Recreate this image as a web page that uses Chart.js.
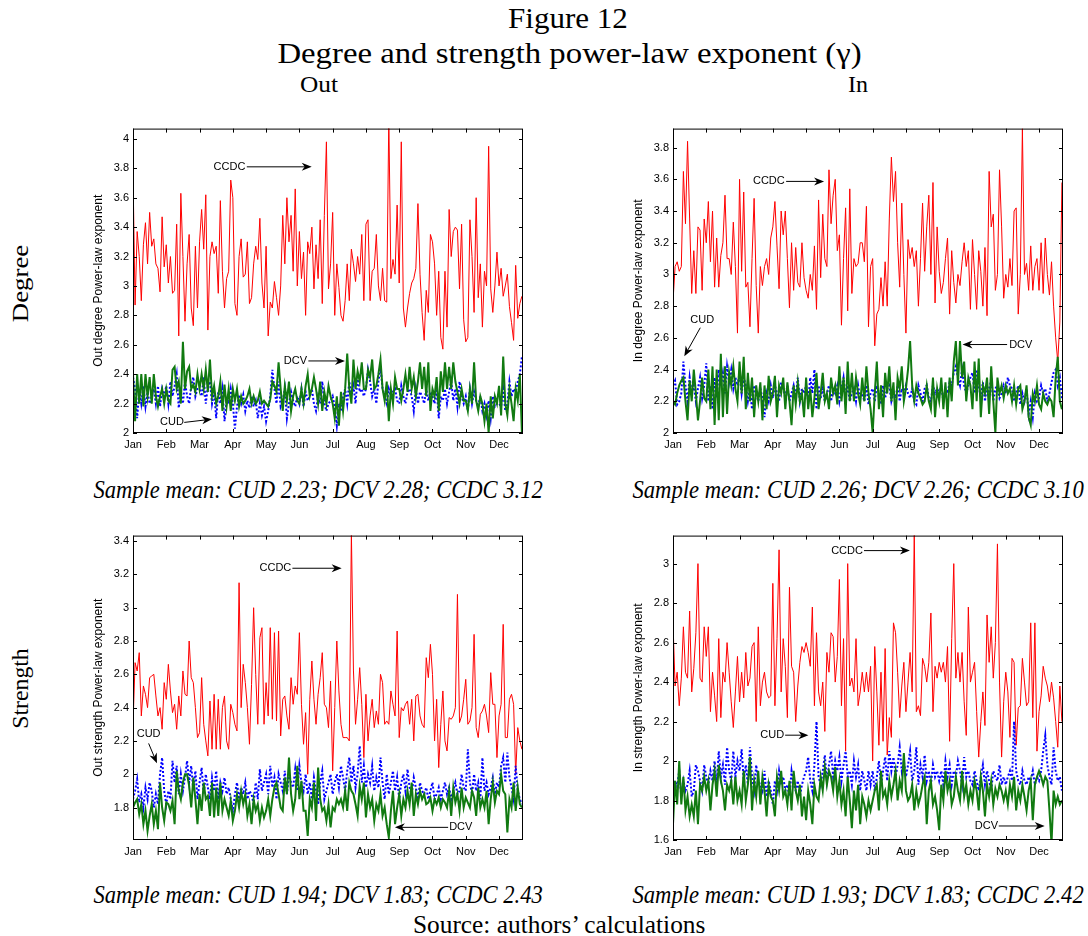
<!DOCTYPE html>
<html>
<head>
<meta charset="utf-8">
<script src="https://cdn.jsdelivr.net/npm/chart.js@4.4.1/dist/chart.umd.min.js"></script>
<style>
  body { margin: 0; width: 1088px; height: 936px; background: #fff; position: relative; overflow: hidden; }
  canvas { position: absolute; }
  .t { position: absolute; white-space: nowrap; color: #000; transform-origin: center center; line-height: 1; }
</style>
</head>
<body>
<canvas id="p1" width="477" height="340" style="left:58px;top:118px"></canvas>
<canvas id="p2" width="477" height="340" style="left:598px;top:118px"></canvas>
<canvas id="p3" width="477" height="340" style="left:58px;top:525px"></canvas>
<canvas id="p4" width="477" height="340" style="left:598px;top:525px"></canvas>
<script>
// months on the x axis, 16 observations per month (Dec is partial)
const MONTHS = ['Jan', 'Feb', 'Mar', 'Apr', 'May', 'Jun', 'Jul', 'Aug', 'Sep', 'Oct', 'Nov', 'Dec'];
const PER_MONTH = 16;
const X_MAX = 11.72;

// ---- Out degree ----
const outDegCCDC = [
  3.77, 2.87, 3.37, 3.2, 2.9, 3.28, 3.43, 3.15, 3.5, 3.27, 3.32, 3.15, 3.12, 2.96, 3.47, 3.13,
  3.28, 3.02, 3.2, 2.95, 2.97, 3.42, 2.66, 3.63, 3.2, 2.76, 3.15, 3.35, 2.85, 2.73, 3.27, 2.85,
  3.3, 3.52, 3.25, 3.62, 2.7, 3.2, 3.3, 3.22, 3.27, 2.95, 3.58, 3.1, 2.85, 3.05, 3.1, 3.72,
  3.6, 2.88, 2.8, 3.2, 3.32, 3.06, 3.08, 3.3, 2.88, 2.92, 3.15, 3.27, 3.18, 3.46, 3.02, 2.85,
  3.27, 2.66, 2.89, 2.85, 3.03, 2.92, 2.8, 3.0, 3.48, 3.15, 3.6, 3.3, 3.48, 3.1, 3.66, 3.0,
  3.37, 3.05, 3.23, 2.8, 3.3, 3.22, 3.4, 2.98, 3.28, 3.05, 3.45, 2.88, 3.48, 3.98, 2.98, 3.15,
  3.5, 2.8, 3.15, 2.99, 2.8, 2.76, 2.9, 3.15, 2.9, 3.25, 3.15, 3.03, 3.2, 3.08, 3.35, 2.9,
  3.42, 3.45, 2.9, 3.1, 3.12, 3.35, 3.0, 2.9, 3.12, 2.9, 2.89, 4.15, 3.05, 3.18, 3.08, 3.55,
  3.02, 3.98, 2.85, 2.72, 2.85, 2.95, 3.02, 3.05, 3.12, 3.56, 3.08, 2.82, 2.63, 2.97, 2.82, 3.35,
  3.3, 3.15, 2.8, 3.1, 2.65, 2.57, 3.1, 2.72, 3.52, 3.2, 3.37, 3.4, 3.38, 2.98, 3.42, 2.77,
  2.62, 2.65, 3.45, 3.2, 2.82, 3.6, 2.92, 3.15, 2.72, 3.1, 3.0, 3.95, 2.98, 2.82, 3.0, 3.23,
  3.0, 3.12, 2.93, 3.0, 3.08, 2.86, 2.75, 2.63, 3.14, 2.78, 2.88, 2.93
];
const outDegDCV = [
  2.4, 2.08, 2.4, 2.2, 2.4, 2.18, 2.4, 2.25, 2.38, 2.2, 2.4, 2.25, 2.18, 2.25, 2.3, 2.2,
  2.3, 2.22, 2.2, 2.43, 2.45, 2.3, 2.35, 2.2, 2.62, 2.3, 2.42, 2.45, 2.3, 2.33, 2.28, 2.4,
  2.3, 2.4, 2.3, 2.43, 2.28, 2.5, 2.25, 2.32, 2.2, 2.25, 2.35, 2.15, 2.33, 2.18, 2.3, 2.15,
  2.3, 2.22, 2.3, 2.18, 2.25, 2.2, 2.22, 2.25, 2.3, 2.2, 2.25, 2.2, 2.22, 2.28, 2.2, 2.22,
  2.2, 2.18, 2.23, 2.35, 2.32, 2.28, 2.48, 2.3, 2.15, 2.32, 2.22, 2.35, 2.15, 2.25, 2.3, 2.22,
  2.2, 2.3, 2.2, 2.32, 2.4, 2.25, 2.3, 2.38, 2.3, 2.2, 2.35, 2.15, 2.28, 2.2, 2.32, 2.25,
  2.2, 2.1, 2.25, 2.05, 2.28, 2.15, 2.3, 2.54, 2.3, 2.2, 2.5, 2.3, 2.42, 2.35, 2.48, 2.3,
  2.3, 2.43, 2.38, 2.5, 2.3, 2.32, 2.4, 2.5, 2.3, 2.22, 2.35, 2.08, 2.3, 2.2, 2.38, 2.3,
  2.3, 2.22, 2.3, 2.4, 2.28, 2.45, 2.3, 2.38, 2.25, 2.35, 2.48, 2.3, 2.45, 2.25, 2.48, 2.15,
  2.3, 2.25, 2.38, 2.15, 2.42, 2.28, 2.48, 2.3, 2.45, 2.3, 2.48, 2.35, 2.28, 2.2, 2.3, 2.22,
  2.22, 2.15, 2.3, 2.2, 2.48, 2.22, 2.15, 2.25, 2.2, 2.08, 2.2, 2.0, 2.25, 2.1, 2.25, 2.2,
  2.32, 2.12, 2.52, 2.2, 2.12, 2.3, 2.2, 2.08, 2.3, 2.22, 2.4, 2.0
];
const outDegCUD = [
  2.38, 2.3, 2.1, 2.3, 2.2, 2.32, 2.18, 2.28, 2.2, 2.25, 2.3, 2.2, 2.32, 2.18, 2.3, 2.25,
  2.32, 2.2, 2.35, 2.25, 2.32, 2.4, 2.17, 2.28, 2.2, 2.35, 2.25, 2.2, 2.32, 2.38, 2.25, 2.3,
  2.3, 2.25, 2.38, 2.2, 2.32, 2.35, 2.2, 2.28, 2.1, 2.28, 2.2, 2.3, 2.08, 2.22, 2.2, 2.3,
  2.2, 2.03, 2.18, 2.26, 2.2, 2.26, 2.15, 2.22, 2.17, 2.25, 2.18, 2.22, 2.1, 2.2, 2.12, 2.18,
  2.08, 2.15, 2.25, 2.43, 2.3, 2.2, 2.35, 2.18, 2.22, 2.3, 2.1, 2.2, 2.28, 2.22, 2.18, 2.25,
  2.2, 2.3, 2.18, 2.28, 2.22, 2.25, 2.3, 2.2, 2.15, 2.25, 2.2, 2.35, 2.2, 2.15, 2.2, 2.22,
  2.25, 2.18, 2.05, 2.2, 2.15, 2.25, 2.3, 2.2, 2.35, 2.25, 2.32, 2.2, 2.38, 2.28, 2.3, 2.25,
  2.3, 2.43, 2.35, 2.25, 2.3, 2.2, 2.35, 2.45, 2.3, 2.25, 2.2, 2.3, 2.25, 2.28, 2.3, 2.22,
  2.2, 2.32, 2.25, 2.2, 2.28, 2.3, 2.25, 2.15, 2.3, 2.2, 2.28, 2.25, 2.2, 2.3, 2.22, 2.28,
  2.25, 2.2, 2.3, 2.1, 2.25, 2.22, 2.3, 2.2, 2.28, 2.35, 2.22, 2.3, 2.18, 2.35, 2.25, 2.2,
  2.25, 2.15, 2.3, 2.2, 2.28, 2.22, 2.18, 2.25, 2.15, 2.2, 2.12, 2.22, 2.1, 2.25, 2.18, 2.2,
  2.2, 2.18, 2.3, 2.15, 2.2, 2.35, 2.25, 2.3, 2.28, 2.35, 2.4, 2.52
];

// ---- In degree ----
const inDegCCDC = [
  2.83, 3.05, 3.08, 3.02, 3.05, 3.65, 3.32, 3.84, 3.35, 2.88, 3.15, 2.88, 3.3, 3.28, 2.9, 3.35,
  3.2, 3.46, 3.08, 3.4, 2.92, 3.23, 2.92, 3.12, 3.2, 3.5, 3.1, 3.1, 3.0, 3.33, 3.05, 2.63,
  3.6, 3.02, 3.52, 2.92, 2.95, 2.67, 3.1, 3.48, 2.93, 2.63, 3.05, 2.93, 3.05, 3.1, 3.0, 3.23,
  3.3, 3.46, 3.18, 2.91, 3.4, 3.25, 3.4, 3.1, 2.79, 3.2, 2.9, 3.17, 2.95, 2.92, 3.2, 2.98,
  2.9, 2.85, 3.0, 2.9, 3.18, 2.78, 3.47, 2.98, 3.38, 3.1, 3.05, 3.66, 3.32, 3.5, 3.6, 3.15,
  3.25, 2.68, 3.1, 3.42, 2.77, 3.54, 2.88, 3.1, 3.05, 3.07, 3.2, 3.2, 3.08, 3.43, 2.67, 3.05,
  3.1, 2.55, 2.75, 2.78, 2.98, 2.8, 3.08, 2.8, 3.35, 3.74, 3.46, 3.65, 3.2, 2.92, 3.45, 3.0,
  2.63, 3.22, 3.1, 3.17, 3.05, 3.15, 2.8, 3.1, 3.45, 3.02, 3.3, 3.5, 3.0, 3.58, 2.82, 3.3,
  3.02, 2.88, 2.95, 3.1, 3.23, 2.75, 3.15, 2.95, 2.82, 3.0, 2.93, 3.08, 3.2, 3.05, 3.15, 2.78,
  3.22, 3.0, 2.78, 3.15, 3.02, 2.8, 3.17, 2.74, 3.65, 3.3, 3.38, 2.9, 3.0, 3.66, 3.3, 2.85,
  3.0, 2.92, 3.1, 2.93, 3.4, 3.42, 2.75, 3.0, 3.92, 3.0, 3.07, 2.9, 3.18, 2.9, 3.05, 3.1,
  2.9, 3.2, 2.88, 3.23, 3.0, 2.87, 3.08, 2.8, 2.6, 2.45, 2.7, 3.58
];
const inDegDCV = [
  2.2, 2.18, 2.25, 2.3, 2.33, 2.35, 2.2, 2.08, 2.33, 2.2, 2.4, 2.25, 2.08, 2.2, 2.35, 2.22,
  2.2, 2.4, 2.15, 2.42, 2.05, 2.4, 2.08, 2.5, 2.1, 2.42, 2.12, 2.38, 2.3, 2.42, 2.28, 2.2,
  2.45, 2.25, 2.48, 2.15, 2.38, 2.2, 2.35, 2.1, 2.3, 2.2, 2.32, 2.08, 2.3, 2.15, 2.36, 2.2,
  2.25, 2.36, 2.1, 2.3, 2.25, 2.35, 2.15, 2.32, 2.2, 2.05, 2.3, 2.18, 2.32, 2.2, 2.25, 2.1,
  2.35, 2.15, 2.28, 2.1, 2.22, 2.38, 2.15, 2.25, 2.38, 2.2, 2.25, 2.15, 2.35, 2.25, 2.3, 2.18,
  2.42, 2.2, 2.35, 2.12, 2.45, 2.2, 2.38, 2.2, 2.35, 2.25, 2.18, 2.35, 2.2, 2.42, 2.25, 2.15,
  2.0, 2.25, 2.45, 2.15, 2.3, 2.1, 2.38, 2.25, 2.42, 2.2, 2.32, 2.08, 2.35, 2.28, 2.42, 2.2,
  2.28, 2.4, 2.58, 2.3, 2.2, 2.3, 2.25, 2.22, 2.18, 2.2, 2.3, 2.2, 2.15, 2.35, 2.1, 2.28,
  2.2, 2.35, 2.15, 2.32, 2.1, 2.35, 2.2, 2.45, 2.58, 2.3, 2.58, 2.35, 2.45, 2.2, 2.35, 2.3,
  2.15, 2.45, 2.2, 2.47, 2.1, 2.3, 2.25, 2.35, 2.12, 2.42, 2.2, 2.0, 2.35, 2.25, 2.3, 2.22,
  2.3, 2.25, 2.28, 2.2, 2.3, 2.18, 2.28, 2.3, 2.15, 2.2, 2.3, 2.1, 2.05, 2.25, 2.2, 2.3,
  2.18, 2.15, 2.25, 2.2, 2.18, 2.22, 2.2, 2.1, 2.35, 2.48, 2.2, 2.15
];
const inDegCUD = [
  2.3, 2.33, 2.18, 2.2, 2.25, 2.45, 2.3, 2.2, 2.35, 2.25, 2.3, 2.2, 2.28, 2.35, 2.22, 2.3,
  2.44, 2.2, 2.3, 2.15, 2.35, 2.22, 2.4, 2.3, 2.38, 2.25, 2.42, 2.32, 2.4, 2.28, 2.35, 2.3,
  2.38, 2.25, 2.35, 2.3, 2.2, 2.28, 2.15, 2.3, 2.25, 2.2, 2.28, 2.22, 2.1, 2.25, 2.2, 2.3,
  2.22, 2.3, 2.25, 2.2, 2.32, 2.28, 2.22, 2.3, 2.2, 2.25, 2.3, 2.22, 2.35, 2.2, 2.28, 2.25,
  2.3, 2.2, 2.35, 2.25, 2.4, 2.15, 2.3, 2.22, 2.28, 2.2, 2.25, 2.3, 2.2, 2.28, 2.25, 2.3,
  2.2, 2.28, 2.35, 2.22, 2.3, 2.2, 2.25, 2.28, 2.2, 2.3, 2.22, 2.25, 2.2, 2.3, 2.18, 2.25,
  2.28, 2.2, 2.3, 2.25, 2.18, 2.3, 2.22, 2.28, 2.3, 2.2, 2.25, 2.22, 2.3, 2.2, 2.28, 2.25,
  2.3, 2.25, 2.22, 2.28, 2.2, 2.18, 2.3, 2.25, 2.2, 2.28, 2.3, 2.22, 2.2, 2.3, 2.25, 2.28,
  2.25, 2.3, 2.2, 2.28, 2.25, 2.32, 2.3, 2.38, 2.42, 2.35, 2.3, 2.4, 2.3, 2.25, 2.3, 2.35,
  2.38, 2.25, 2.4, 2.3, 2.22, 2.32, 2.2, 2.3, 2.25, 2.35, 2.2, 2.28, 2.3, 2.22, 2.25, 2.3,
  2.25, 2.35, 2.3, 2.28, 2.2, 2.25, 2.3, 2.18, 2.25, 2.2, 2.28, 2.12, 2.2, 2.1, 2.25, 2.2,
  2.22, 2.3, 2.25, 2.28, 2.2, 2.25, 2.32, 2.38, 2.4, 2.3, 2.35, 2.22
];

// ---- Out strength ----
const outStrCCDC = [
  2.3, 2.67, 2.62, 2.73, 2.35, 2.53, 2.48, 2.4, 2.58, 2.59, 2.6, 2.47, 2.35, 2.4, 2.27, 2.55,
  2.45, 2.66, 2.5, 2.37, 2.42, 2.27, 2.47, 2.35, 2.62, 2.48, 2.47, 2.8, 2.58, 2.55, 2.4, 2.22,
  2.25, 2.58, 2.3, 2.2, 2.11, 2.44, 2.15, 2.48, 2.15, 2.45, 2.15, 2.4, 2.47, 2.2, 2.15, 2.42,
  2.37, 2.3, 2.26, 3.15, 2.4, 2.66, 2.55, 2.4, 2.18, 2.54, 3.0, 2.6, 2.3, 2.82, 2.88, 2.3,
  2.55, 2.35, 2.88, 2.33, 2.85, 2.32, 2.86, 2.23, 2.45, 2.47, 2.35, 2.27, 2.58, 2.42, 2.53, 2.48,
  2.85, 2.42, 2.18, 2.37, 2.0, 2.45, 2.68, 2.45, 2.3, 2.48, 2.58, 2.73, 2.42, 2.4, 2.28, 2.56,
  2.02, 2.4, 2.8, 2.5, 2.3, 2.22, 2.22, 2.22, 2.2, 3.45, 2.62, 2.3, 2.45, 2.64, 2.42, 2.1,
  2.48, 2.2, 2.35, 2.45, 2.28, 2.38, 2.3, 2.6, 2.55, 2.3, 2.32, 2.3, 2.5, 2.42, 2.35, 2.86,
  2.22, 2.4, 2.38, 2.42, 2.44, 2.3, 2.45, 2.2, 2.47, 2.48, 2.35, 2.3, 2.28, 2.7, 2.58, 2.78,
  2.6, 2.2, 2.45, 2.04, 2.3, 2.5, 2.2, 2.14, 2.34, 2.33, 2.35, 2.4, 3.08, 2.31, 2.35, 2.45,
  2.57, 2.3, 2.32, 2.4, 2.84, 2.28, 2.22, 2.36, 2.38, 2.42, 2.35, 2.25, 2.61, 2.42, 2.42, 2.1,
  2.35, 2.42, 2.9, 2.22, 2.22, 2.45, 2.48, 2.42, 2.0, 2.28, 2.2, 2.15
];
const outStrDCV = [
  1.8, 1.83, 1.85, 1.76, 1.82, 1.7, 1.78, 1.66, 1.75, 1.82, 1.7, 1.78, 1.67, 1.95, 1.8, 1.72,
  1.83, 1.82, 1.78, 1.84, 1.7, 2.02, 1.9, 1.85, 1.95, 2.0, 2.0, 1.93, 1.8, 1.98, 1.85, 1.7,
  1.88, 1.78, 1.95, 1.85, 1.87, 1.75, 1.95, 1.74, 1.92, 1.75, 1.95, 1.78, 1.85, 1.8, 1.75, 1.84,
  1.72, 1.78, 1.88, 1.8, 1.9, 1.82, 1.88, 1.75, 1.82, 1.7, 1.85, 1.78, 1.82, 1.72, 1.8, 1.74,
  1.78, 1.85, 1.75, 1.85, 1.92, 1.95, 1.88, 1.8, 1.78, 1.98, 1.88, 2.1, 1.88, 1.78, 1.85, 2.05,
  1.85, 1.96, 1.78, 1.78, 1.63, 1.85, 1.8, 1.95, 1.72, 2.04, 1.85, 1.78, 1.8, 1.72, 1.82, 1.68,
  1.8, 1.78, 1.85, 1.82, 1.85, 1.8, 1.9, 1.78, 1.95, 1.9, 1.88, 1.82, 1.75, 1.93, 1.85, 1.95,
  1.74, 1.88, 1.8, 1.85, 1.72, 1.82, 1.78, 1.88, 1.75, 1.8, 1.7, 1.62, 1.78, 1.9, 1.7, 1.8,
  1.88, 1.75, 1.85, 1.8, 1.9, 1.82, 1.95, 1.75, 1.88, 1.82, 1.9, 1.85, 1.88, 1.82, 1.83, 1.86,
  1.78, 1.85, 1.82, 1.86, 1.8, 1.85, 1.83, 1.8, 1.9, 1.75, 1.92, 1.83, 1.88, 1.78, 1.92, 1.8,
  1.86, 1.83, 1.8, 1.9, 1.86, 1.75, 1.92, 1.8, 1.85, 1.8, 1.9, 1.7, 1.85, 1.95, 1.83, 1.9,
  1.88, 2.0, 1.9, 1.88, 1.65, 1.85, 1.8, 1.95, 1.78, 1.92, 1.82, 1.8
];
const outStrCUD = [
  1.85, 1.9, 1.97, 1.83, 1.88, 1.8, 1.92, 1.85, 1.95, 1.9, 1.8, 1.88, 1.82, 2.0, 2.1, 1.9,
  1.82, 1.9, 1.85, 2.08, 1.95, 2.05, 1.88, 2.0, 1.9, 1.98, 2.08, 1.95, 2.05, 1.9, 2.02, 1.85,
  1.95, 2.04, 1.88, 2.0, 1.92, 1.85, 1.98, 1.9, 2.02, 1.85, 1.95, 1.9, 1.98, 1.88, 1.92, 1.85,
  1.78, 1.88, 1.95, 1.85, 1.92, 1.88, 1.95, 1.85, 1.9, 1.88, 1.82, 1.95, 1.85, 2.03, 1.9, 1.95,
  2.0, 1.88, 2.05, 1.92, 1.98, 1.85, 2.0, 1.95, 1.9, 2.02, 1.88, 2.0, 1.95, 1.92, 2.03, 1.9,
  2.05, 1.95, 1.9, 2.0, 1.88, 1.95, 1.85, 1.98, 1.9, 1.82, 1.95, 2.02, 1.85, 1.9, 1.95, 2.0,
  1.88, 1.95, 2.0, 1.92, 2.05, 1.98, 1.9, 2.02, 2.1, 1.95, 2.05, 1.92, 2.0, 2.17, 1.95, 2.05,
  1.92, 2.0, 1.95, 2.05, 1.9, 1.98, 1.92, 2.1, 1.95, 1.85, 2.0, 1.88, 1.95, 2.02, 1.9, 1.98,
  1.85, 1.95, 2.0, 1.9, 2.03, 1.92, 1.88, 1.98, 1.92, 1.85, 1.95, 1.9, 1.88, 1.92, 1.85, 1.9,
  1.95, 1.85, 1.88, 1.92, 1.85, 1.9, 1.95, 1.88, 1.92, 1.85, 1.9, 1.95, 1.88, 1.9, 2.0, 1.92,
  1.9, 2.15, 1.95, 1.88, 2.0, 1.9, 1.95, 1.85, 2.1, 1.9, 1.95, 1.88, 1.92, 1.98, 1.88, 1.95,
  1.92, 2.05, 2.1, 1.95, 2.13, 1.98, 1.92, 1.85, 2.05, 1.9, 1.85, 1.82
];

// ---- In strength ----
const inStrCCDC = [
  2.7, 2.38, 2.45, 2.28, 2.42, 2.68, 2.45, 2.42, 2.76, 2.35, 2.47, 2.65, 3.0, 2.42, 2.4, 2.68,
  2.53, 2.68, 2.25, 2.45, 2.33, 2.2, 2.62, 2.22, 2.45, 2.4, 2.6, 2.45, 2.3, 2.17, 2.35, 2.53,
  2.3, 2.45, 2.32, 2.55, 2.38, 2.42, 2.58, 2.6, 2.2, 2.68, 2.28, 2.4, 2.45, 2.35, 2.32, 2.33,
  2.9, 2.28, 2.62, 3.07, 2.35, 2.62, 2.48, 2.22, 2.88, 2.48, 2.45, 2.2, 2.38, 2.5, 2.58, 2.55,
  2.6, 2.55, 2.48, 2.78, 2.28, 2.65, 2.35, 2.28, 2.4, 2.15, 2.55, 2.45, 2.65, 2.63, 2.4, 2.53,
  2.92, 2.28, 2.62, 2.05, 3.0, 2.38, 2.42, 2.35, 2.62, 2.28, 2.35, 2.45, 2.35, 2.45, 2.35, 2.48,
  2.0, 2.58, 2.35, 2.08, 2.45, 2.1, 2.57, 2.03, 2.22, 2.12, 2.7, 2.65, 2.45, 2.22, 2.38, 2.5,
  2.25, 2.4, 2.55, 2.35, 3.15, 2.25, 2.28, 2.23, 2.52, 2.48, 2.4, 2.5, 2.75, 2.25, 2.48, 2.42,
  2.5, 2.45, 2.5, 2.4, 2.58, 2.1, 2.62, 3.0, 2.42, 2.55, 2.4, 2.55, 2.3, 2.13, 2.78, 2.4,
  2.45, 2.5, 2.25, 2.02, 2.2, 2.35, 2.18, 2.74, 2.5, 2.68, 2.42, 2.6, 3.1, 2.4, 2.02, 2.3,
  2.45, 2.35, 2.12, 2.52, 2.5, 2.08, 2.27, 2.28, 2.52, 2.4, 2.28, 2.3, 2.7, 2.22, 2.7, 2.05,
  2.25, 2.33, 2.48, 2.42, 2.38, 2.3, 2.4, 2.32, 2.2, 2.07, 2.38, 2.2
];
const inStrDCV = [
  1.68, 1.9, 1.78, 2.0, 1.78, 1.92, 1.75, 1.82, 1.72, 1.78, 1.72, 1.85, 1.68, 1.88, 1.85, 1.92,
  1.85, 1.9, 1.75, 1.88, 1.95, 1.82, 1.98, 1.9, 1.85, 1.75, 1.88, 1.85, 1.9, 1.78, 1.92, 1.8,
  1.85, 1.78, 1.95, 1.8, 1.88, 2.02, 1.75, 1.9, 1.82, 1.95, 1.78, 1.92, 1.85, 1.72, 1.88, 1.82,
  1.8, 1.72, 1.92, 1.85, 1.95, 1.82, 1.85, 1.78, 1.9, 1.75, 1.95, 1.85, 1.8, 1.88, 1.72, 1.82,
  1.7, 1.85, 1.78, 1.68, 1.88, 1.82, 1.8, 1.92, 1.85, 1.97, 1.88, 1.95, 1.92, 1.85, 1.97, 1.82,
  1.9, 1.78, 1.85, 1.72, 1.92, 1.8, 1.66, 1.85, 1.75, 1.88, 1.68, 1.82, 1.78, 1.72, 1.8, 1.75,
  1.8, 1.85, 1.88, 1.75, 1.95, 1.82, 1.85, 1.78, 1.9, 1.82, 1.88, 1.95, 1.8, 1.9, 1.85, 2.04,
  1.85, 1.8, 1.82, 1.88, 1.75, 1.85, 1.78, 1.82, 1.88, 1.92, 1.68, 1.85, 1.9, 1.78, 1.82, 1.75,
  1.65, 1.88, 1.8, 1.95, 1.85, 1.9, 1.78, 1.82, 1.92, 1.85, 1.8, 1.95, 1.82, 1.88, 1.78, 1.85,
  1.8, 1.9, 1.85, 1.75, 1.92, 1.85, 1.72, 1.88, 1.82, 1.9, 1.78, 1.86, 1.82, 1.88, 1.85, 1.8,
  1.85, 1.78, 1.88, 1.82, 1.92, 1.75, 1.85, 1.8, 1.88, 1.82, 1.75, 1.85, 1.9, 1.7, 1.88, 1.92,
  1.95, 1.92, 1.88, 1.92, 1.9, 1.75, 1.58, 1.85, 1.78, 1.82, 1.78, 1.8
];
const inStrCUD = [
  1.85, 1.9, 1.87, 1.95, 1.82, 1.9, 1.85, 1.88, 1.95, 1.82, 1.85, 1.98, 1.95, 1.9, 1.85, 1.98,
  1.92, 1.88, 1.95, 1.9, 2.0, 1.88, 2.05, 1.92, 1.98, 1.88, 2.07, 1.95, 1.9, 2.05, 1.92, 2.0,
  1.95, 2.06, 1.9, 1.98, 1.88, 2.07, 1.92, 1.85, 1.98, 1.9, 1.88, 1.85, 1.95, 1.82, 1.9, 1.85,
  1.78, 1.9, 1.85, 1.95, 1.88, 1.92, 1.85, 1.88, 1.82, 1.95, 1.88, 1.85, 1.9, 1.82, 1.88, 1.92,
  1.95, 2.02, 1.9, 1.85, 1.98, 2.2, 1.92, 1.88, 1.95, 2.03, 1.9, 1.98, 2.05, 1.92, 2.0, 1.95,
  2.02, 1.9, 1.98, 2.05, 1.92, 1.95, 1.88, 2.0, 1.92, 1.98, 1.85, 1.95, 1.9, 1.85, 1.95, 1.88,
  1.95, 1.85, 1.92, 2.0, 1.88, 1.95, 2.02, 1.9, 2.05, 1.95, 2.02, 1.92, 1.98, 2.07, 1.95, 2.0,
  1.92, 1.98, 2.05, 1.9, 1.95, 2.07, 1.88, 1.98, 1.92, 2.03, 1.9, 1.95, 1.88, 1.98, 1.92, 1.95,
  1.9, 1.95, 1.88, 2.0, 1.92, 1.98, 1.88, 1.95, 1.92, 2.0, 1.95, 1.88, 2.02, 1.92, 1.95, 1.9,
  1.88, 1.95, 1.9, 1.85, 1.92, 1.98, 1.88, 1.95, 1.9, 1.85, 1.95, 1.92, 1.9, 1.98, 1.88, 1.92,
  1.88, 1.92, 1.95, 1.9, 2.2, 1.95, 1.9, 1.88, 1.95, 1.9, 1.88, 1.92, 1.9, 1.95, 1.88, 1.92,
  1.9, 1.95, 2.05, 2.13, 1.98, 1.92, 1.88, 2.07, 1.95, 1.9, 1.92, 1.85
];

// y tick values per panel
const outDegTicks = [2, 2.2, 2.4, 2.6, 2.8, 3, 3.2, 3.4, 3.6, 3.8, 4];
const inDegTicks = [2, 2.2, 2.4, 2.6, 2.8, 3, 3.2, 3.4, 3.6, 3.8];
const outStrTicks = [1.8, 2, 2.2, 2.4, 2.6, 2.8, 3, 3.2, 3.4];
const inStrTicks = [1.6, 1.8, 2, 2.2, 2.4, 2.6, 2.8, 3];

const CCDC_COLOR = '#ff0000';
const DCV_COLOR = '#117a11';
const CUD_COLOR = '#0000ff';
const TICK = 4;

const toPoints = vals => vals.map((v, i) => ({ x: i / PER_MONTH, y: v }));

function drawArrow(ctx, x1, y1, x2, y2) {
  const ang = Math.atan2(y2 - y1, x2 - x1);
  const L = 10, W = 4;
  ctx.beginPath();
  ctx.moveTo(x1, y1);
  ctx.lineTo(x2 - Math.cos(ang) * 6, y2 - Math.sin(ang) * 6);
  ctx.stroke();
  ctx.save();
  ctx.translate(x2, y2);
  ctx.rotate(ang);
  ctx.beginPath();
  ctx.moveTo(0, 0);
  ctx.lineTo(-L, -W);
  ctx.lineTo(-L * 0.7, 0);
  ctx.lineTo(-L, W);
  ctx.closePath();
  ctx.fill();
  ctx.restore();
}

// box + inward ticks on all four sides, then the arrow labels
const framePlugin = {
  id: 'frame',
  afterDatasetsDraw(chart, args, opts) {
    const { ctx, chartArea: a, scales: { x, y } } = chart;
    ctx.save();
    ctx.strokeStyle = '#000';
    ctx.lineWidth = 1;
    ctx.strokeRect(a.left + 0.5, a.top + 0.5, a.right - a.left - 1, a.bottom - a.top - 1);
    ctx.beginPath();
    x.ticks.forEach(t => {
      const px = Math.round(x.getPixelForValue(t.value)) + 0.5;
      ctx.moveTo(px, a.bottom); ctx.lineTo(px, a.bottom - TICK);
      ctx.moveTo(px, a.top); ctx.lineTo(px, a.top + TICK);
    });
    y.ticks.forEach(t => {
      const py = Math.round(y.getPixelForValue(t.value)) + 0.5;
      ctx.moveTo(a.left, py); ctx.lineTo(a.left + TICK, py);
      ctx.moveTo(a.right, py); ctx.lineTo(a.right - TICK, py);
    });
    ctx.stroke();

    ctx.fillStyle = '#000';
    ctx.font = '11px "Liberation Sans", Arial, sans-serif';
    ctx.textAlign = 'center';
    ctx.textBaseline = 'middle';
    (opts.notes || []).forEach(n => {
      ctx.fillText(n.label, x.getPixelForValue(n.lx), y.getPixelForValue(n.ly));
      drawArrow(ctx,
        x.getPixelForValue(n.from[0]), y.getPixelForValue(n.from[1]),
        x.getPixelForValue(n.to[0]), y.getPixelForValue(n.to[1]));
    });
    ctx.restore();
  }
};

function makePanel(id, p) {
  const tickFont = { family: '"Liberation Sans", Arial, sans-serif', size: 11 };
  return new Chart(document.getElementById(id), {
    type: 'line',
    data: {
      datasets: [
        { label: 'DCV', data: toPoints(p.dcv), borderColor: DCV_COLOR, borderWidth: 2 },
        { label: 'CUD', data: toPoints(p.cud), borderColor: CUD_COLOR, borderWidth: 2, borderDash: [2, 2] },
        { label: 'CCDC', data: toPoints(p.ccdc), borderColor: CCDC_COLOR, borderWidth: 1 }
      ]
    },
    options: {
      responsive: false,
      animation: false,
      devicePixelRatio: 1,
      layout: { padding: { left: 0, top: 8, right: 12, bottom: 0 } },
      elements: { point: { radius: 0 }, line: { tension: 0 } },
      plugins: { legend: { display: false }, tooltip: { enabled: false }, frame: { notes: p.notes } },
      scales: {
        x: {
          type: 'linear', min: 0, max: X_MAX,
          grid: { display: false, drawTicks: false }, border: { display: false },
          afterBuildTicks: s => { s.ticks = MONTHS.map((m, i) => ({ value: i })); },
          afterFit: s => { s.height = 25; },
          ticks: { color: '#000', font: tickFont, padding: 5, autoSkip: false, maxRotation: 0,
                   callback: v => MONTHS[v] }
        },
        y: {
          min: p.min, max: p.max,
          grid: { display: false, drawTicks: false }, border: { display: false },
          afterBuildTicks: s => { s.ticks = p.ticks.map(v => ({ value: v })); },
          afterFit: s => { s.width = 75; },
          ticks: { color: '#000', font: tickFont, padding: 4, callback: v => String(+v.toFixed(1)) },
          title: { display: true, text: p.title, color: '#000', font: { family: '"Liberation Sans", Arial, sans-serif', size: 12 },
                   padding: { top: 33, bottom: 0 } }
        }
      }
    },
    plugins: [framePlugin]
  });
}

makePanel('p1', {
  ccdc: outDegCCDC, dcv: outDegDCV, cud: outDegCUD, min: 2, max: 4.07, ticks: outDegTicks,
  title: 'Out degree Power-law exponent',
  notes: [
    { label: 'CCDC', lx: 2.9, ly: 3.81, from: [3.42, 3.81], to: [5.37, 3.81] },
    { label: 'DCV', lx: 4.88, ly: 2.49, from: [5.27, 2.49], to: [6.37, 2.49] },
    { label: 'CUD', lx: 1.17, ly: 2.072, from: [1.54, 2.072], to: [2.37, 2.094] }
  ]
});
makePanel('p2', {
  ccdc: inDegCCDC, dcv: inDegDCV, cud: inDegCUD, min: 2, max: 3.92, ticks: inDegTicks,
  title: 'In degree Power-law exponent',
  notes: [
    { label: 'CCDC', lx: 2.88, ly: 3.587, from: [3.4, 3.587], to: [4.54, 3.587] },
    { label: 'CUD', lx: 0.88, ly: 2.716, from: [0.82, 2.664], to: [0.34, 2.484] },
    { label: 'DCV', lx: 10.45, ly: 2.558, from: [10.04, 2.558], to: [8.7, 2.558] }
  ]
});
makePanel('p3', {
  ccdc: outStrCCDC, dcv: outStrDCV, cud: outStrCUD, min: 1.605, max: 3.433, ticks: outStrTicks,
  title: 'Out strength Power-law exponent',
  notes: [
    { label: 'CCDC', lx: 4.28, ly: 3.237, from: [4.79, 3.237], to: [6.27, 3.237] },
    { label: 'CUD', lx: 0.47, ly: 2.24, from: [0.47, 2.185], to: [0.72, 2.066] },
    { label: 'DCV', lx: 9.85, ly: 1.681, from: [9.47, 1.681], to: [7.87, 1.681] }
  ]
});
makePanel('p4', {
  ccdc: inStrCCDC, dcv: inStrDCV, cud: inStrCUD, min: 1.6, max: 3.142, ticks: inStrTicks,
  title: 'In strength Power-law exponent',
  notes: [
    { label: 'CCDC', lx: 5.23, ly: 3.066, from: [5.74, 3.066], to: [7.12, 3.066] },
    { label: 'CUD', lx: 2.98, ly: 2.131, from: [3.37, 2.131], to: [4.07, 2.131] },
    { label: 'DCV', lx: 9.42, ly: 1.671, from: [9.79, 1.671], to: [11.17, 1.671] }
  ]
});

// page texts: centre, target width, font
const SERIF = '"Liberation Serif", "DejaVu Serif", serif';
const texts = [
  { text: 'Figure 12', cx: 568, cy: 18, w: 120, font: '30px ' + SERIF },
  { text: 'Degree and strength power-law exponent (\u03b3)', cx: 569, cy: 53, w: 584, font: '30px ' + SERIF },
  { text: 'Out', cx: 319, cy: 84, w: 38, font: '24px ' + SERIF },
  { text: 'In', cx: 858, cy: 84, w: 20, font: '24px ' + SERIF },
  { text: 'Degree', cx: 20, cy: 283, w: 77, font: '24px ' + SERIF, rot: true },
  { text: 'Strength', cx: 20, cy: 688, w: 80, font: '24px ' + SERIF, rot: true },
  { text: 'Sample mean: CUD 2.23; DCV 2.28; CCDC 3.12', cx: 318, cy: 490, w: 449, font: 'italic 25px ' + SERIF },
  { text: 'Sample mean: CUD 2.26; DCV 2.26; CCDC 3.10', cx: 858, cy: 490, w: 451, font: 'italic 25px ' + SERIF },
  { text: 'Sample mean: CUD 1.94; DCV 1.83; CCDC 2.43', cx: 318, cy: 895, w: 449, font: 'italic 25px ' + SERIF },
  { text: 'Sample mean: CUD 1.93; DCV 1.83; CCDC 2.42', cx: 858, cy: 895, w: 451, font: 'italic 25px ' + SERIF },
  { text: 'Source: authors\u2019 calculations', cx: 559, cy: 925, w: 292, font: '25px ' + SERIF }
];
texts.forEach(t => {
  const el = document.createElement('div');
  el.className = 't';
  el.textContent = t.text;
  el.style.font = t.font;
  document.body.appendChild(el);
  const w = el.offsetWidth, h = el.offsetHeight;
  const sx = t.w ? t.w / w : 1;
  el.style.left = (t.cx - w / 2) + 'px';
  el.style.top = (t.cy - h / 2) + 'px';
  el.style.transform = (t.rot ? 'rotate(-90deg) ' : '') + 'scaleX(' + sx.toFixed(3) + ')';
});
</script>
</body>
</html>
